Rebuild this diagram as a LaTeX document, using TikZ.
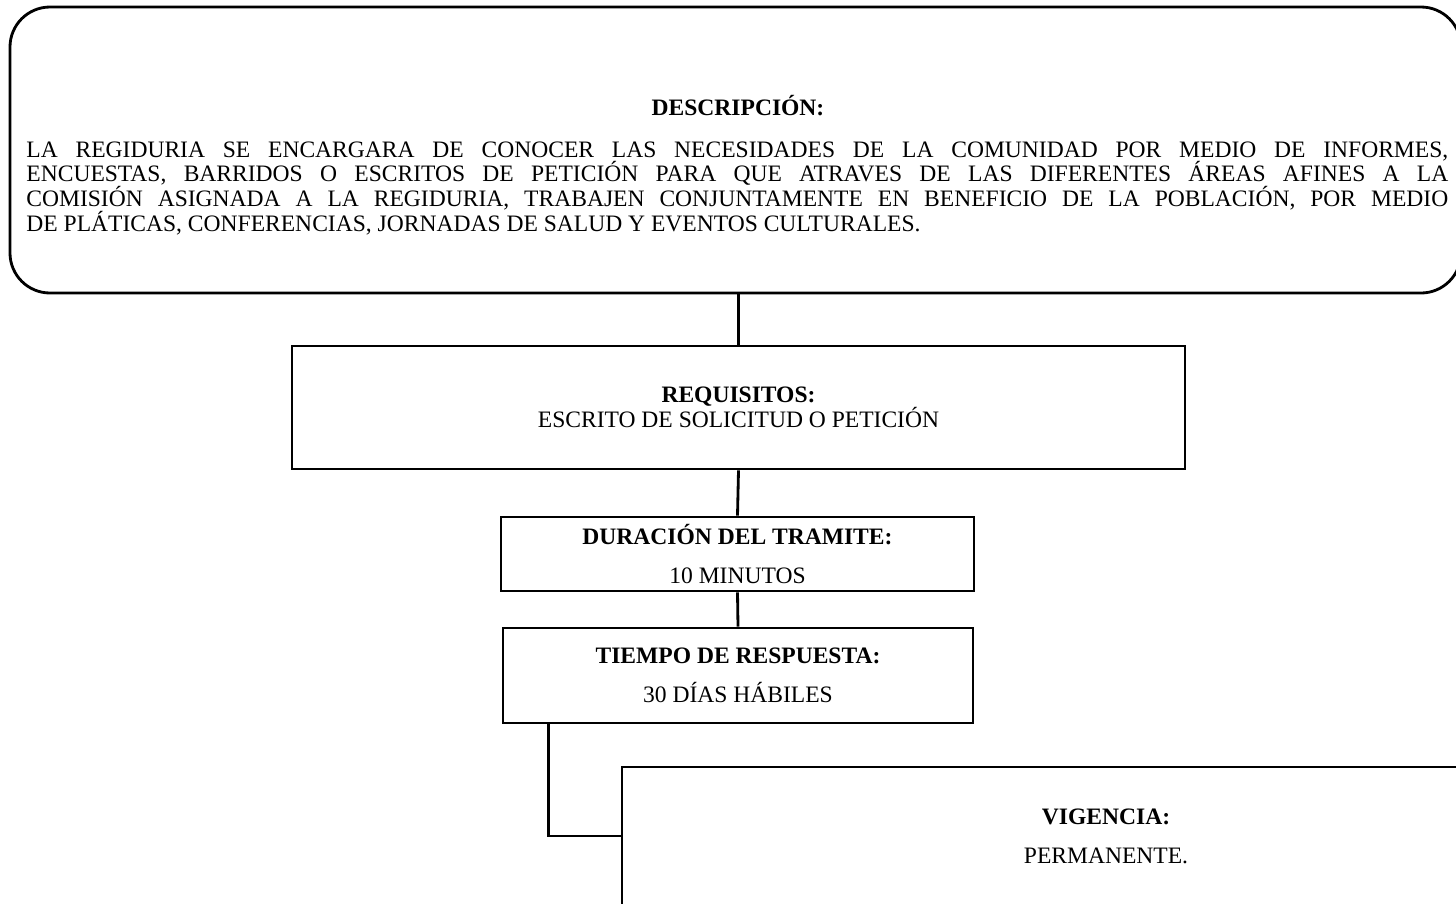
\documentclass[tikz,border=0pt]{standalone}
\usepackage{fontspec}
\setmainfont{Liberation Serif}
\usetikzlibrary{positioning}

\begin{document}
\begin{tikzpicture}[line width=1.6pt,
  font=\fontsize{13.4}{14.2}\selectfont,
  caja/.style={draw,align=center,inner sep=0pt}]
\useasboundingbox (0,0) rectangle (29.12,-18.06);
\clip (0,0) rectangle (29.12,-18.06);
\node[caja,rounded corners=0.8cm,minimum width=29.02cm,minimum height=5.72cm] (desc) at (14.71,-3.0) {};
\node[anchor=base] (desctit) at (14.76,-2.30) {\bfseries DESCRIPCIÓN:};
\node[anchor=north west,inner sep=0pt,text width=28.44cm,align=justify] (desctxt) at (0.5,-2.80)
 {\hyphenpenalty=10000 LA REGIDURIA SE ENCARGARA DE CONOCER LAS NECESIDADES DE LA COMUNIDAD POR MEDIO DE INFORMES,\linebreak
 ENCUESTAS, BARRIDOS O ESCRITOS DE PETICIÓN PARA QUE ATRAVES DE LAS DIFERENTES ÁREAS AFINES A LA\linebreak
 COMISIÓN ASIGNADA A LA REGIDURIA, TRABAJEN CONJUNTAMENTE EN BENEFICIO DE LA POBLACIÓN, POR MEDIO\linebreak
 DE PLÁTICAS, CONFERENCIAS, JORNADAS DE SALUD Y EVENTOS CULTURALES.};
\node[caja,minimum width=17.86cm,minimum height=2.46cm] (req) at (14.77,-8.15)
 {\bfseries REQUISITOS:\\ ESCRITO DE SOLICITUD O PETICIÓN};
\node[caja,minimum width=9.46cm,minimum height=1.48cm] (dur) at (14.75,-11.08)
 {\bfseries DURACIÓN DEL TRAMITE:\\[8pt] 10 MINUTOS};
\node[caja,minimum width=9.40cm,minimum height=1.90cm] (tiempo) at (14.76,-13.51)
 {\bfseries TIEMPO DE RESPUESTA:\\[8pt] 30 DÍAS HÁBILES};
\node[caja,minimum width=19.36cm,minimum height=2.76cm] (vig) at (22.12,-16.72)
 {\bfseries VIGENCIA:\\[8pt] PERMANENTE.};
\draw (req.north |- desc.south) -- (req.north);
\draw (req.south) -- (dur.north);
\draw (dur.south) -- (tiempo.north);
\draw ([xshift=0.94cm]tiempo.south west) |- (vig.west);
\end{tikzpicture}
\end{document}
